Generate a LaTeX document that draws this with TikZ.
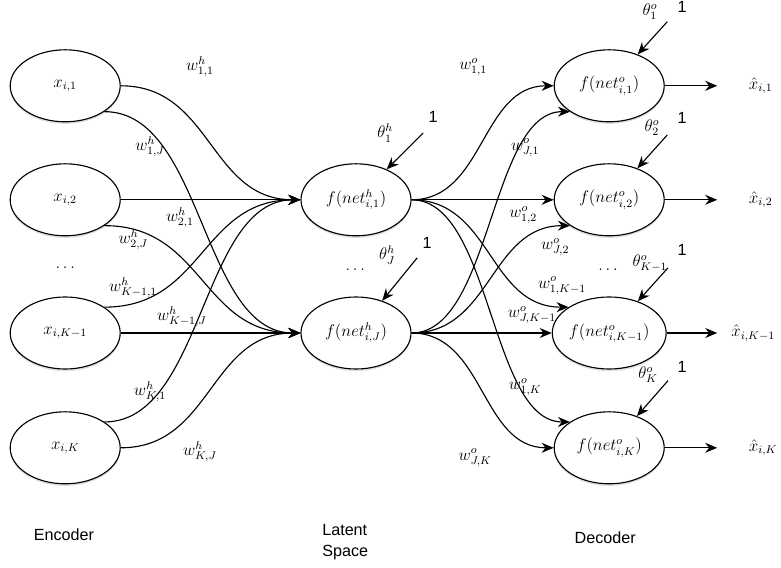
\documentclass[tikz,border=0pt]{standalone}
\usepackage{fontspec}
\setsansfont{Liberation Sans}
\usetikzlibrary{arrows.meta,shadows,shapes.geometric}

\tikzset{
  neuron/.style={draw, ellipse, line width=0.8pt, minimum width=2.75cm, minimum height=1.8cm,
    inner sep=0pt, fill=white, drop shadow={opacity=0.25, shadow xshift=0pt, shadow yshift=-1.5pt}},
  wire/.style={line width=0.8pt, -{Stealth[length=3mm,width=2.5mm]}},
  lbl/.style={font=\fontsize{11.5}{15}\selectfont\sffamily}
}

\begin{document}
\begin{tikzpicture}[every node/.append style={font=\fontsize{11.5}{14}\selectfont}]
\useasboundingbox (0,0) rectangle (19.525,14.175);

% input layer
\node[neuron] (x1) at (1.63,12.03) {$x_{i,1}$};
\node[neuron] (x2) at (1.63,9.18) {$x_{i,2}$};
\node (xd) at (1.63,7.48) {$\dots$};
\node[neuron] (x3) at (1.63,5.85) {$x_{i,K-1}$};
\node[neuron] (x4) at (1.63,2.98) {$x_{i,K}$};

% latent layer
\node[neuron] (h1) at (8.9,9.18) {$f(net^h_{i,1})$};
\node (hd) at (8.88,7.43) {$\dots$};
\node[neuron] (hJ) at (8.9,5.85) {$f(net^h_{i,J})$};

% output layer
\node[neuron] (o1) at (15.23,12.03) {$f(net^o_{i,1})$};
\node[neuron] (o2) at (15.23,9.18) {$f(net^o_{i,2})$};
\node (od) at (15.2,7.43) {$\dots$};
\node[neuron] (o3) at (15.23,5.85) {$f(net^o_{i,K-1})$};
\node[neuron] (o4) at (15.23,2.98) {$f(net^o_{i,K})$};

% encoder weights
\draw[wire] (x1.east) .. controls +(2.28,0) and +(-2.28,0) .. (h1.west);
\draw[wire] (x1.south east) .. controls +(2.48,0) and +(-2.48,0) .. (hJ.west);
\draw[wire] (x2.east) -- (h1.west);
\draw[wire] (x2.south east) .. controls +(2.48,0) and +(-2.48,0) .. (hJ.west);
\draw[wire] (x3.north east) .. controls +(2.48,0) and +(-2.48,0) .. (h1.west);
\draw[wire] (x3.east) -- (hJ.west);
\draw[wire] (x4.north east) .. controls +(2.48,0) and +(-2.48,0) .. (h1.west);
\draw[wire] (x4.east) .. controls +(2.28,0) and +(-2.28,0) .. (hJ.west);

\node (wh11) at (5.0,12.5) {$w^h_{1,1}$};
\node (wh1J) at (3.75,10.5) {$w^h_{1,J}$};
\node (wh21) at (4.5,8.73) {$w^h_{2,1}$};
\node (wh2J) at (3.33,8.18) {$w^h_{2,J}$};
\node (whK11) at (3.33,6.98) {$w^h_{K-1,1}$};
\node (whK1J) at (4.55,6.25) {$w^h_{K-1,J}$};
\node (whK1) at (3.75,4.38) {$w^h_{K,1}$};
\node (whKJ) at (5.0,2.88) {$w^h_{K,J}$};

% decoder weights
\draw[wire] (h1.east) .. controls +(1.82,0) and +(-1.82,0) .. (o1.west);
\draw[wire] (h1.east) -- (o2.west);
\draw[wire] (h1.east) .. controls +(2.0,0) and +(-2.0,0) .. (o3.north west);
\draw[wire] (h1.east) .. controls +(2.0,0) and +(-2.0,0) .. (o4.north west);
\draw[wire] (hJ.east) .. controls +(2.0,0) and +(-2.0,0) .. (o1.south west);
\draw[wire] (hJ.east) .. controls +(2.0,0) and +(-2.0,0) .. (o2.south west);
\draw[wire] (hJ.east) -- (o3.west);
\draw[wire] (hJ.east) .. controls +(1.82,0) and +(-1.82,0) .. (o4.west);

\node (wo11) at (11.83,12.5) {$w^o_{1,1}$};
\node (woJ1) at (13.13,10.48) {$w^o_{J,1}$};
\node (wo12) at (13.08,8.8) {$w^o_{1,2}$};
\node (woJ2) at (13.88,8.0) {$w^o_{J,2}$};
\node (wo1K1) at (14.05,7.03) {$w^o_{1,K-1}$};
\node (woJK1) at (13.3,6.3) {$w^o_{J,K-1}$};
\node (wo1K) at (13.13,4.5) {$w^o_{1,K}$};
\node (woJK) at (11.88,2.73) {$w^o_{J,K}$};

% biases
\coordinate (bh1) at (10.58,10.85);
\coordinate (bhJ) at (10.43,7.73);
\coordinate (bo1) at (16.68,13.63);
\coordinate (bo2) at (16.68,10.8);
\coordinate (bo3) at (16.7,7.48);
\coordinate (bo4) at (16.7,4.66);
\draw[wire] (bh1) -- (h1);
\draw[wire] (bhJ) -- (hJ);
\draw[wire] (bo1) -- (o1);
\draw[wire] (bo2) -- (o2);
\draw[wire] (bo3) -- (o3);
\draw[wire] (bo4) -- (o4);

\node (th1) at (9.63,10.85) {$\theta^h_1$};
\node (thJ) at (9.68,7.8) {$\theta^h_J$};
\node (to1) at (16.25,13.88) {$\theta^o_1$};
\node (to2) at (16.3,10.98) {$\theta^o_2$};
\node (to3) at (16.25,7.6) {$\theta^o_{K-1}$};
\node (to4) at (16.2,4.8) {$\theta^o_K$};

\node[lbl] (oneh1) at (10.83,11.25) {1};
\node[lbl] (onehJ) at (10.68,8.1) {1};
\node[lbl] (oneo1) at (17.05,14.0) {1};
\node[lbl] (oneo2) at (17.05,11.23) {1};
\node[lbl] (oneo3) at (17.05,7.93) {1};
\node[lbl] (oneo4) at (17.05,5.0) {1};

% reconstructed outputs
\coordinate (y1) at (17.93,12.03);
\coordinate (y2) at (17.93,9.18);
\coordinate (y3) at (17.93,5.85);
\coordinate (y4) at (17.93,2.98);
\draw[wire] (o1.east) -- (y1);
\draw[wire] (o2.east) -- (y2);
\draw[wire] (o3.east) -- (y3);
\draw[wire] (o4.east) -- (y4);
\node[anchor=west] (xh1) at (18.6,12.03) {$\hat{x}_{i,1}$};
\node[anchor=west] (xh2) at (18.6,9.18) {$\hat{x}_{i,2}$};
\node[anchor=east] (xh3) at (19.5,5.85) {$\hat{x}_{i,K-1}$};
\node[anchor=west] (xh4) at (18.6,2.98) {$\hat{x}_{i,K}$};

% layer names
\node[lbl] (enc) at (1.6,0.8) {Encoder};
\node[lbl, align=left] (lat) at (8.63,0.63) {Latent\\Space};
\node[lbl] (dec) at (15.13,0.73) {Decoder};
\end{tikzpicture}
\end{document}
